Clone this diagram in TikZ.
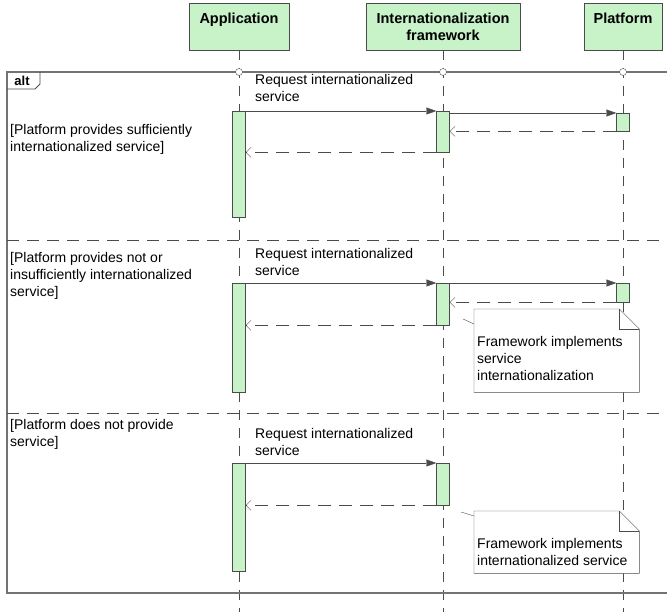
\documentclass[tikz,border=0pt]{standalone}
\usepackage{fontspec}
\setmainfont{Liberation Sans}
\usetikzlibrary{arrows.meta}
\definecolor{actgreen}{RGB}{200,242,200}
\definecolor{linegray}{RGB}{75,75,75}
\definecolor{framegray}{RGB}{115,115,115}

\begin{document}
\begin{tikzpicture}[x=1pt, y=-1pt, font=\fontsize{14}{17}\selectfont,
	head/.style={rectangle, draw=linegray, fill=actgreen, anchor=north, minimum height=47pt, align=center, font=\fontsize{14.5}{17}\selectfont\bfseries},
	act/.style={rectangle, draw=linegray, fill=actgreen, anchor=north, minimum width=13pt, inner sep=0pt},
	life/.style={draw=linegray, dash pattern=on 10pt off 8pt},
	sep/.style={draw=linegray, dash pattern=on 12pt off 8pt},
	frame/.style={draw=framegray, line width=1.1pt},
	call/.style={draw=linegray, -{Triangle[length=10pt,width=7pt]}},
	ret/.style={draw=linegray, dash pattern=on 13pt off 8pt, -{Straight Barb[length=5pt,width=10pt]}},
	txt/.style={anchor=north west, inner sep=0pt, align=left},
	note/.style={anchor=north west, minimum width=165pt, inner sep=0pt},
]
\useasboundingbox (0,0) rectangle (667,612);
\coordinate (bot) at (0,612);

% lifeline heads
\node[head, minimum width=100pt] (app) at (239,3) {Application\\~};
\node[head, minimum width=154pt] (frm) at (443,3) {Internationalization\\framework};
\node[head, minimum width=78pt] (plt) at (623,3) {Platform\\~};
\foreach \ll in {app,frm,plt}{
	\draw[life] (\ll.south) -- (\ll.south |- bot);
}

% alt frame
\draw[frame] (7,72) rectangle (672,593);
\draw[draw=linegray, line width=0.8pt] (7,89) -- (35,89) -- (40,84) -- (40,72);
\node[font=\fontsize{13}{15}\selectfont\bfseries] (alt) at (22,81) {alt};
\foreach \ll in {app,frm,plt}{
	\draw[linegray, fill=white] (\ll.south |- bot) ++(0,-540) circle (3.5);
}
\draw[sep] (7,240) -- (672,240);
\draw[sep] (7,413) -- (672,413);

% guards
\node[txt] (g1) at (10,124) {[Platform provides sufficiently\\internationalized service]};
\node[txt] (g2) at (10,252) {[Platform provides not or\\insufficiently internationalized\\service]};
\node[txt] (g3) at (10,419) {[Platform does not provide\\service]};

% activations
\foreach \nm/\xx/\yy/\hh in {
	a1/239/111/106
	,f1/443/111/41
	,p1/623/113/18
	%
	,a2/239/283/109
	,f2/443/283/42
	,p2/623/283/19
	%
	,a3/239/463/108
	,f3/443/463/42
}{
	\node[act, minimum height=\hh] (\nm) at (\xx,\yy) {};
}

% messages
\foreach \i in {1,2,3}{
	\draw[call] (a\i.north east) -- (f\i.north west);
	\draw[ret] (f\i.south west) -- (a\i.east |- f\i.south);
}
\foreach \i in {1,2}{
	\draw[call] (f\i.east |- p\i.north) -- (p\i.north west);
	\draw[ret] (p\i.south west) -- (f\i.east |- p\i.south);
}
\node[txt] (m1) at (255,74) {Request internationalized\\service};
\node[txt] (m2) at (255,248) {Request internationalized\\service};
\node[txt] (m3) at (255,428) {Request internationalized\\service};

% notes
\node[note, minimum height=83pt] (n2) at (474,309) {};
\node[note, minimum height=62pt] (n3) at (474,511) {};
\foreach \nt in {n2,n3}{
	\draw[linegray, fill=white] (\nt.north west) -- ([xshift=-20pt]\nt.north east) -- ([yshift=-20pt]\nt.north east) -- (\nt.south east) -- (\nt.south west) -- cycle;
	\draw[linegray] ([xshift=-20pt]\nt.north east) -- ([xshift=-20pt,yshift=-20pt]\nt.north east) -- ([yshift=-20pt]\nt.north east);
}
\node[txt] (t2) at (477,336) {Framework implements\\service\\internationalization};
\node[txt] (t3) at (477,538) {Framework implements\\internationalized service};
\coordinate (c2) at (463,319);
\coordinate (c3) at (461,512);
\draw[linegray] (c2) -- (n2.north west |- 0,324);
\draw[linegray] (c3) -- (n3.north west |- 0,516);
\end{tikzpicture}
\end{document}
